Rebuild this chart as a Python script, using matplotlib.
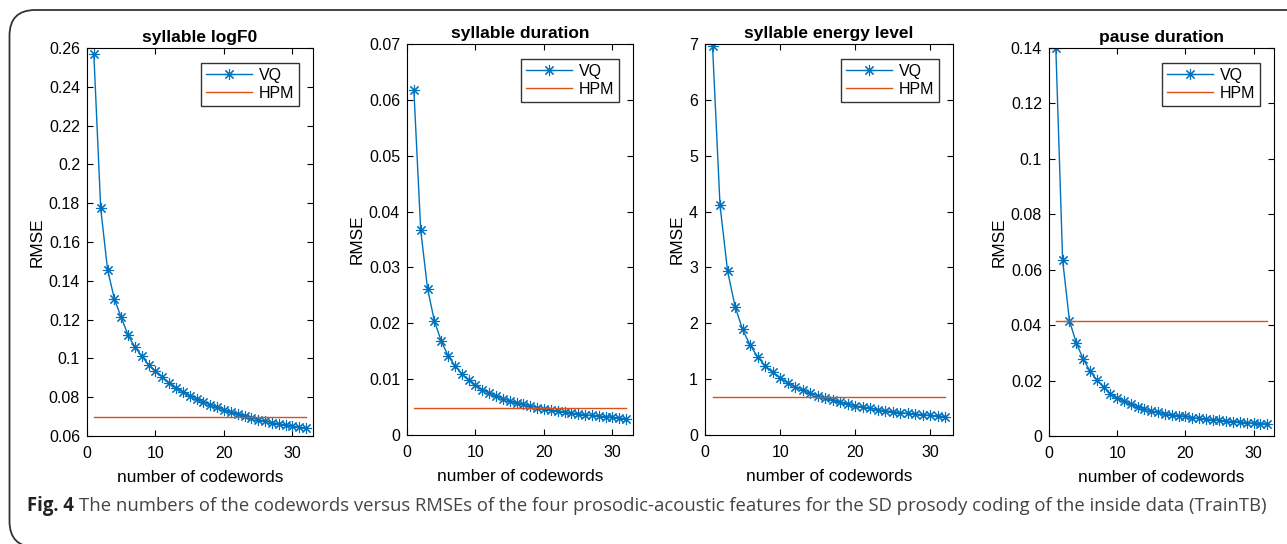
import numpy as np
import matplotlib
matplotlib.use("Agg")
import matplotlib.pyplot as plt
from matplotlib.patches import FancyBboxPatch

plt.rcParams.update({
    "font.family": ["Liberation Sans", "DejaVu Sans"],
    "font.size": 11,
    "xtick.direction": "in",
    "ytick.direction": "in",
    "xtick.top": True,
    "ytick.right": True,
    "axes.linewidth": 0.8,
})

codewords = np.arange(1, 33)

titles = ["syllable logF0", "syllable duration", "syllable energy level", "pause duration"]

vq_logf0 = [0.2567, 0.1774, 0.1458, 0.1306, 0.1211, 0.1120, 0.1058, 0.1012,
            0.0966, 0.0935, 0.0906, 0.0871, 0.0849, 0.0828, 0.0808, 0.0791,
            0.0775, 0.0760, 0.0748, 0.0734, 0.0722, 0.0712, 0.0701, 0.0693,
            0.0684, 0.0676, 0.0669, 0.0662, 0.0657, 0.0652, 0.0645, 0.0640]
vq_sdur = [0.0618, 0.0367, 0.0262, 0.0204, 0.0168, 0.0142, 0.0124, 0.0110,
           0.0098, 0.0089, 0.0081, 0.0075, 0.0069, 0.0065, 0.0061, 0.0057,
           0.0055, 0.0052, 0.0049, 0.0047, 0.0045, 0.0043, 0.0041, 0.0039,
           0.0038, 0.0036, 0.0035, 0.0034, 0.0033, 0.0032, 0.0030, 0.0029]
vq_energy = [6.97, 4.11, 2.94, 2.30, 1.89, 1.61, 1.40, 1.24,
             1.12, 1.02, 0.935, 0.864, 0.80, 0.745, 0.70, 0.655,
             0.62, 0.584, 0.554, 0.524, 0.50, 0.476, 0.453, 0.435,
             0.417, 0.40, 0.387, 0.375, 0.363, 0.351, 0.34, 0.33]
vq_pause = [0.1401, 0.0634, 0.0416, 0.0336, 0.0279, 0.0235, 0.0202, 0.0176,
            0.0153, 0.0137, 0.0125, 0.0114, 0.0105, 0.0097, 0.0091, 0.0085,
            0.0081, 0.0077, 0.0073, 0.0071, 0.0066, 0.0064, 0.0061, 0.0059,
            0.0057, 0.0054, 0.0052, 0.0051, 0.0048, 0.0046, 0.0045, 0.0043]
hpm_values = [0.0696, 0.0049, 0.68, 0.0415]

ylims = [(0.06, 0.26), (0, 0.07), (0, 7), (0, 0.14)]
yticks = [np.arange(0.06, 0.261, 0.02), np.arange(0, 0.0701, 0.01),
          np.arange(0, 7.1, 1), np.arange(0, 0.141, 0.02)]

# axes rectangles in pixels: left, top, right, bottom
boxes = [(87, 48, 313, 436), (407, 44, 633, 435), (705, 44, 953, 435), (1049, 48, 1274, 436)]

W, H = 1287, 544
fig = plt.figure(figsize=(W / 100, H / 100), dpi=100)

# rounded frame, right and bottom edges run off the canvas
border = FancyBboxPatch((9.5 / W, -3 / H), 1.2, (H - 7) / H,
                        boxstyle="round,pad=0,rounding_size=0.02",
                        transform=fig.transFigure, fill=False,
                        edgecolor="#333333", linewidth=1.3, mutation_aspect=W / H)
fig.patches.append(border)

asterisk = (8, 2, 0)
series = [vq_logf0, vq_sdur, vq_energy, vq_pause]
for i in range(4):
    l, t, r, b = boxes[i]
    ax = fig.add_axes([l / W, 1 - b / H, (r - l) / W, (b - t) / H])
    ax.plot(codewords, series[i], "-", marker=asterisk, color="#0072BD", linewidth=1.0,
            markersize=8, markeredgewidth=0.8, label="VQ")
    ax.plot([codewords[0], codewords[-1]], [hpm_values[i]] * 2, "-",
            color="#D95319", linewidth=1.0, label="HPM")
    ax.set_xlim(0, 33)
    ax.set_ylim(*ylims[i])
    ax.set_xticks([0, 10, 20, 30])
    ax.set_yticks(yticks[i])
    ax.set_yticklabels([f"{v:g}" for v in np.round(yticks[i], 3)])
    ax.tick_params(length=4, width=0.8, labelsize=11.5)
    ax.tick_params(axis="x", pad=7)
    ax.tick_params(axis="y", pad=5)
    ax.set_title(titles[i], fontsize=12.5, fontweight="bold", pad=4)
    ax.set_xlabel("number of codewords", fontsize=12.4, labelpad=6.5)
    ax.set_ylabel("RMSE", fontsize=12.4, labelpad=3)
    ax.legend(loc="upper right", bbox_to_anchor=(1 - 14 / (r - l), 1 - 15 / (b - t)),
              borderaxespad=0, fancybox=False, edgecolor="#333333", framealpha=1,
              handlelength=2.9, fontsize=11.5, borderpad=0.3, labelspacing=0.2,
              handletextpad=0.4)

cap_font = ["Open Sans", "DejaVu Sans"]
bold = fig.text(27 / W, 1 - 506 / H, "Fig. 4", fontsize=13.35, fontweight="bold",
                family=cap_font, color="#222222", va="center")
renderer = fig.canvas.get_renderer()
x_end = bold.get_window_extent(renderer).x1
fig.text((x_end + 5) / W, 1 - 506 / H,
         "The numbers of the codewords versus RMSEs of the four prosodic-acoustic features "
         "for the SD prosody coding of the inside data (TrainTB)",
         fontsize=13.35, family=cap_font, color="#444444", va="center")

fig.savefig("out.png", dpi=100)
